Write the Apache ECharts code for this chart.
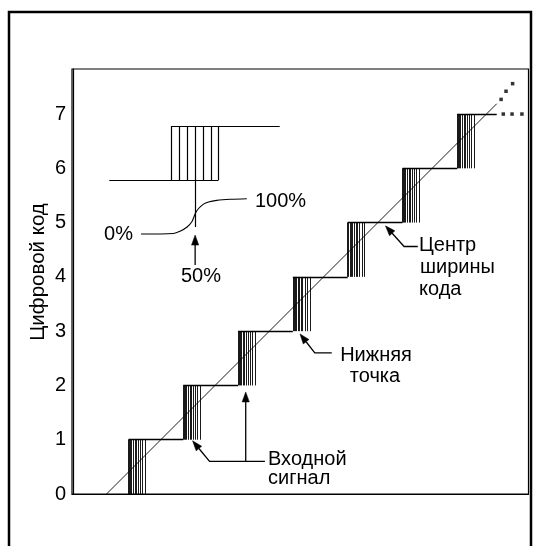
<!DOCTYPE html>
<html><head><meta charset="utf-8">
<script src="https://cdn.jsdelivr.net/npm/echarts@6/dist/echarts.min.js"></script>
<style>html,body{margin:0;padding:0;background:#fff}#c{width:539px;height:546px}</style>
</head><body><div id="c"></div>
<script>
// ---- data (axis units: x = input in LSB, y = digital code) ----
const codes = [1, 2, 3, 4, 5, 6, 7];
const yTickLabels = ['0', '1', '2', '3', '4', '5', '6', '7'];
const hatchOffsets = [0, 0.02, 0.04, 0.06, 0.09, 0.12, 0.15, 0.18, 0.22, 0.26, 0.31];
const lastTreadEnd = 7.72;
const idealLine = [[0.60, 0], [7.72, 7.19]];
const diagDots = [[7.80, 7.27], [7.89, 7.42], [8.01, 7.56]];
const treadDots = [[7.84, 7], [8.00, 7], [8.18, 7]];
const insetLowLine = [[0.65, 5.78], [2.64, 5.78]];
const insetHighLine = [[1.78, 6.78], [3.76, 6.78]];
const insetHatchX = [1.780, 1.926, 2.067, 2.218, 2.370, 2.505, 2.643];
const insetLow = 5.78, insetHigh = 6.78, insetCenterDrop = 4.92, insetCenterIndex = 3;
const transitionCurve = [[1.23, 4.79], [1.82, 4.80], [1.94, 4.84], [2.07, 4.92], [2.16, 5.02],
  [2.22, 5.17], [2.28, 5.26], [2.37, 5.34], [2.46, 5.38], [2.61, 5.41], [2.86, 5.43], [3.16, 5.44]];
const arrowPaths = [
  [[2.217, 4.22], [2.217, 4.77]],
  [[6.28, 4.56], [6.03, 4.56], [5.69, 4.94]],
  [[4.71, 2.60], [4.40, 2.60], [4.13, 2.95]],
  [[3.49, 0.60], [2.48, 0.60], [2.17, 0.98]],
  [[3.14, 0.60], [3.14, 1.88]]
];
const annotations = [
  ['Центр', 419, 245, 'left'], ['ширины', 420, 267.5, 'left'], ['кода', 419, 289.5, 'left'],
  ['Нижняя', 376, 355, 'center'], ['точка', 375, 376, 'center'],
  ['Входной', 268, 459.5, 'left'], ['сигнал', 268, 478.5, 'left'],
  ['0%', 133, 234, 'right'], ['100%', 255, 201.5, 'left'], ['50%', 201, 276, 'center']
];
const yName = 'Цифровой код';

// ---- build ----
const FONT = '"Liberation Sans", Arial, sans-serif';
const treads = codes.map(k => ({ coords: [[k, k], [k === 7 ? lastTreadEnd : k + 1, k]] }));
const hatch = [];
codes.forEach(k => hatchOffsets.forEach(o => hatch.push({ coords: [[k + o, k - 1], [k + o, k]] })));
const inset = [{ coords: insetLowLine }, { coords: insetHighLine }];
insetHatchX.forEach((x, i) => inset.push({ coords: [[x, i === insetCenterIndex ? insetCenterDrop : insetLow], [x, insetHigh]] }));

function renderArrow(params, api) {
  const path = arrowPaths[api.value(0)];
  const pts = path.map(p => api.coord(p));
  const a = pts[pts.length - 2], b = pts[pts.length - 1];
  const dx = b[0] - a[0], dy = b[1] - a[1], len = Math.hypot(dx, dy);
  const ux = dx / len, uy = dy / len, L = 10, W = 3.6;
  const base = [b[0] - ux * L, b[1] - uy * L];
  const linePts = pts.slice(0, -1).concat([base]);
  return { type: 'group', children: [
    { type: 'polyline', shape: { points: linePts }, style: { stroke: '#000', lineWidth: 1.3, fill: 'none' } },
    { type: 'polygon', shape: { points: [b, [base[0] - uy * W, base[1] + ux * W], [base[0] + uy * W, base[1] - ux * W]] },
      style: { fill: '#000', stroke: '#000', lineWidth: 0.5 } }
  ] };
}

const chart = echarts.init(document.getElementById('c'), null, { renderer: 'canvas' });
chart.setOption({
  animation: false,
  backgroundColor: '#fff',
  grid: { left: 72, right: 10.5, top: 69, bottom: 52, show: true, borderColor: '#000', borderWidth: 1.2, backgroundColor: 'transparent' },
  xAxis: { type: 'value', min: -0.03, max: 8.30, axisLine: { show: true, lineStyle: { color: '#000', width: 1.2 } },
    axisTick: { show: false }, axisLabel: { show: false }, splitLine: { show: false } },
  yAxis: { type: 'value', min: 0, max: 7.83, interval: 1,
    axisLine: { show: true, lineStyle: { color: '#000', width: 1.2 } },
    axisTick: { show: false }, splitLine: { show: false },
    axisLabel: { margin: 6, fontFamily: FONT, fontSize: 20, color: '#000',
      formatter: v => (Number.isInteger(v) && yTickLabels[v] !== undefined) ? yTickLabels[v] : '' } },
  series: [
    { type: 'lines', coordinateSystem: 'cartesian2d', data: treads, lineStyle: { color: '#000', width: 1.3, opacity: 1 }, silent: true },
    { type: 'lines', coordinateSystem: 'cartesian2d', data: hatch, lineStyle: { color: '#000', width: 0.9, opacity: 1 }, silent: true },
    { type: 'lines', coordinateSystem: 'cartesian2d', data: inset, lineStyle: { color: '#000', width: 1.2, opacity: 1 }, silent: true },
    { type: 'line', data: idealLine, symbol: 'none', lineStyle: { color: '#000', width: 0.9 }, silent: true },
    { type: 'line', data: transitionCurve, symbol: 'none', smooth: 0.3, lineStyle: { color: '#000', width: 1.1 }, silent: true },
    { type: 'scatter', data: diagDots.concat(treadDots), symbol: 'rect', symbolSize: 3.5, itemStyle: { color: '#000' }, silent: true },
    { type: 'custom', coordinateSystem: 'cartesian2d', renderItem: renderArrow, silent: true,
      data: arrowPaths.map((p, i) => [i, p[0][0], p[0][1]]), encode: { x: 1, y: 2 } }
  ],
  graphic: [
    { type: 'rect', shape: { x: 9, y: 12, width: 522, height: 600 }, style: { fill: 'none', stroke: '#000', lineWidth: 2.5 }, silent: true },
    { type: 'text', x: 38, y: 272, rotation: Math.PI / 2, silent: true,
      style: { text: yName, fill: '#000', font: '20.5px ' + FONT, align: 'center', verticalAlign: 'middle' } }
  ].concat(annotations.map(a => ({ type: 'text', x: a[1], y: a[2], silent: true,
    style: { text: a[0], fill: '#000', font: '20px ' + FONT, align: a[3], verticalAlign: 'middle' } })))
});
</script></body></html>
